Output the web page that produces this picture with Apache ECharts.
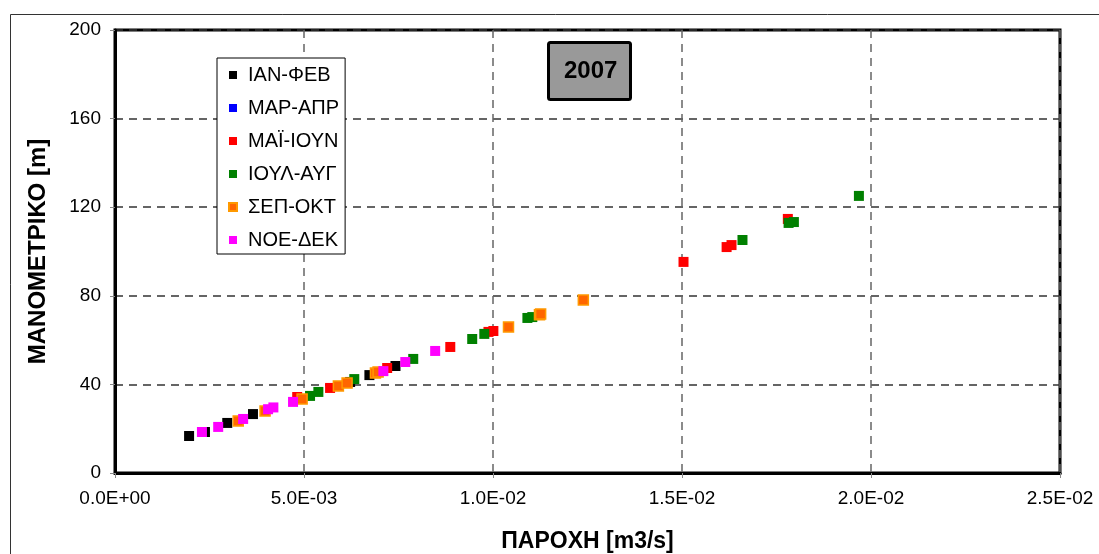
<!DOCTYPE html>
<html>
<head>
<meta charset="utf-8">
<script src="https://cdn.jsdelivr.net/npm/echarts@6/dist/echarts.min.js"></script>
<style>
    html, body { margin: 0; padding: 0; background: #fff; }
    #chart { width: 1099px; height: 554px; }
</style>
</head>
<body>
<div id="chart"></div>
<script>
// legend names (bi-monthly periods)
const periods = ['ΙΑΝ-ΦΕΒ', 'ΜΑΡ-ΑΠΡ', 'ΜΑΪ-ΙΟΥΝ', 'ΙΟΥΛ-ΑΥΓ', 'ΣΕΠ-ΟΚΤ', 'ΝΟΕ-ΔΕΚ'];

// [flow m3/s, head m]
const janFeb = [
    [0.00196, 16.7], [0.00238, 18.5], [0.00297, 22.6], [0.00365, 26.6],
    [0.00622, 41.1], [0.00673, 44.2], [0.00742, 48.3]
];
const marApr = [];
const mayJun = [
    [0.00482, 34.3], [0.00569, 38.4], [0.00720, 47.4], [0.00887, 56.9],
    [0.00988, 63.7], [0.01001, 64.1], [0.01504, 95.3], [0.01618, 102.0],
    [0.01631, 102.9], [0.01780, 114.7]
];
const julAug = [
    [0.00516, 34.8], [0.00538, 36.6], [0.00633, 42.4], [0.00789, 51.5],
    [0.00945, 60.5], [0.00977, 62.8], [0.01091, 70.0], [0.01104, 70.4],
    [0.01660, 105.2], [0.01782, 112.9], [0.01796, 113.3], [0.01968, 125.1]
];
const sepOct = [
    [0.00326, 23.5], [0.00397, 28.0], [0.00495, 33.4], [0.00591, 39.3],
    [0.00614, 40.6], [0.00689, 45.1], [0.00696, 45.6], [0.01041, 65.9],
    [0.01123, 71.4], [0.01126, 71.8], [0.01239, 78.1]
];
const novDec = [
    [0.00230, 18.5], [0.00273, 20.8], [0.00339, 24.4], [0.00405, 28.8],
    [0.00419, 29.6], [0.00471, 32.1], [0.00710, 46.0], [0.00768, 50.1],
    [0.00847, 55.1]
];

const font = "'Liberation Sans', Arial, sans-serif";

function sci(v) {
    if (v === 0) return '0.0E+00';
    const p = v.toExponential(1).split('e');
    const e = parseInt(p[1], 10);
    const a = Math.abs(e);
    return p[0] + 'E' + (e < 0 ? '-' : '+') + (a < 10 ? '0' : '') + a;
}

function makeSeries(name, data, color, border) {
    return {
        name: name,
        type: 'scatter',
        symbol: 'rect',
        symbolSize: 10,
        data: data,
        itemStyle: {
            color: color,
            borderColor: border || color,
            borderWidth: border ? 1.5 : 0,
            opacity: 1
        },
        emphasis: { disabled: true }
    };
}

const chart = echarts.init(document.getElementById('chart'), null, { renderer: 'canvas' });

const option = {
    backgroundColor: '#fff',
    animation: false,
    textStyle: { fontFamily: font },
    graphic: [{
        type: 'rect',
        shape: { x: 10.5, y: 14.5, width: 1200, height: 700 },
        style: { fill: 'none', stroke: '#333', lineWidth: 1 },
        silent: true
    }],
    title: {
        text: '2007',
        left: 548,
        top: 42,
        padding: [17, 13, 17, 16],
        backgroundColor: '#999999',
        borderColor: '#000',
        borderWidth: 3,
        borderRadius: 2,
        textStyle: { fontFamily: font, fontSize: 24, fontWeight: 'bold', color: '#000' }
    },
    legend: {
        orient: 'vertical',
        left: 217,
        top: 58,
        data: periods,
        icon: 'rect',
        itemWidth: 8,
        itemHeight: 8,
        itemGap: 13,
        padding: [7, 6, 4, 11],
        backgroundColor: '#fff',
        borderColor: '#000',
        borderWidth: 1,
        borderRadius: 0,
        textStyle: { fontFamily: font, fontSize: 20, color: '#000', padding: [0, 0, 0, 6] }
    },
    grid: {
        left: 115,
        top: 30,
        right: 39,
        bottom: 81,
        outerBoundsMode: 'none',
        containLabel: false,
        show: true,
        borderColor: '#000',
        borderWidth: 3,
        backgroundColor: '#fff'
    },
    xAxis: {
        type: 'value',
        min: 0,
        max: 0.025,
        interval: 0.005,
        name: 'ΠΑΡΟΧΗ [m3/s]',
        nameLocation: 'middle',
        nameGap: 57,
        nameTextStyle: { fontFamily: font, fontSize: 23, fontWeight: 'bold', color: '#000' },
        axisLine: { show: true, onZero: false, lineStyle: { color: '#000', width: 3 } },
        axisTick: { show: true, length: 5, lineStyle: { color: '#888' } },
        axisLabel: { fontFamily: font, fontSize: 19, color: '#000', margin: 16, formatter: sci },
        splitLine: { show: true, lineStyle: { color: '#666', type: [8, 6], width: 1.5 } }
    },
    yAxis: {
        type: 'value',
        min: 0,
        max: 200,
        interval: 40,
        name: 'ΜΑΝΟΜΕΤΡΙΚΟ [m]',
        nameLocation: 'middle',
        nameGap: 65,
        nameTextStyle: { fontFamily: font, fontSize: 24, fontWeight: 'bold', color: '#000' },
        axisLine: { show: true, onZero: false, lineStyle: { color: '#000', width: 3 } },
        axisTick: { show: true, length: 5, lineStyle: { color: '#888' } },
        axisLabel: { fontFamily: font, fontSize: 19, color: '#000', margin: 14 },
        splitLine: { show: true, lineStyle: { color: '#333', type: [8, 6], width: 1.5 } }
    },
    series: [
        makeSeries(periods[0], janFeb, '#000000'),
        makeSeries(periods[1], marApr, '#0000FF'),
        makeSeries(periods[2], mayJun, '#FF0000'),
        makeSeries(periods[3], julAug, '#008000'),
        makeSeries(periods[4], sepOct, '#FF6600', '#FF9900'),
        makeSeries(periods[5], novDec, '#FF00FF')
    ]
};

chart.setOption(option);
</script>
</body>
</html>
